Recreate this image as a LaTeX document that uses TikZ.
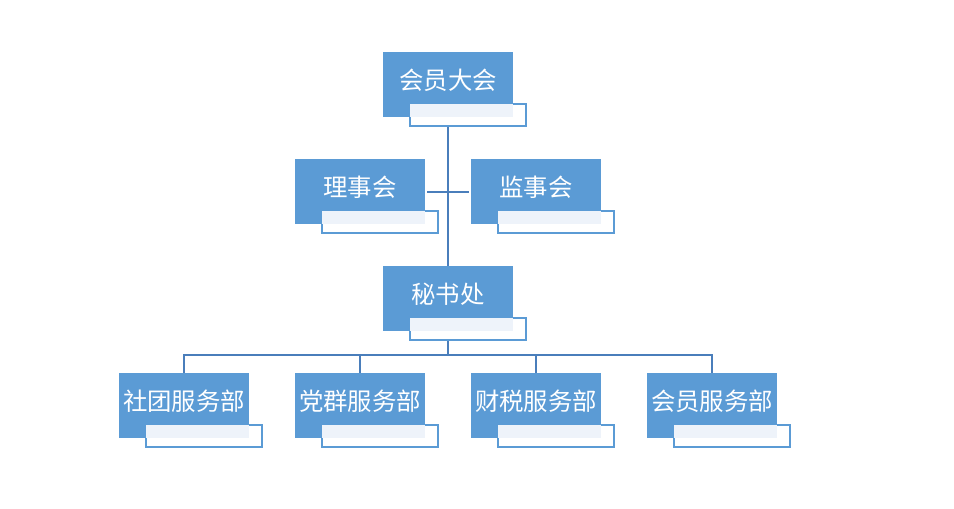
\documentclass[tikz,border=0pt]{standalone}
\usepackage{fontspec}
\newfontfamily\cjk{Noto Sans CJK SC}
\usetikzlibrary{calc,backgrounds}
\definecolor{unitblue}{HTML}{5B9BD5}
\definecolor{unitpale}{HTML}{EEF3FA}
\definecolor{linkblue}{HTML}{4A7EBB}

\begin{document}
\begin{tikzpicture}[x=0.5pt,y=0.5pt]
  \useasboundingbox (0,0) rectangle (954,-509);
  \begin{scope}[
    every node/.style={
      fill=unitblue,
      text=white,
      inner sep=0pt,
      minimum width=65pt,
      minimum height=32.5pt,
      text height=9pt,
      text depth=4.5pt,
      font=\cjk\fontsize{12.2}{14}\selectfont,
    },
    ]
    \node (dahui)   at (448,-84.5)  {会员大会};
    \node (lishi)   at (360,-191.5) {理事会};
    \node (jianshi) at (536,-191.5) {监事会};
    \node (mishu)   at (448,-298.5) {秘书处};
    \node (shetuan) at (184,-405.5) {社团服务部};
    \node (dangqun) at (360,-405.5) {党群服务部};
    \node (caishui) at (536,-405.5) {财税服务部};
    \node (huiyuan) at (712,-405.5) {会员服务部};
  \end{scope}
  \begin{scope}[
    on background layer,
    every node/.style={
      fill=white,
      draw=unitblue,
      line width=1pt,
      inner sep=0pt,
      minimum width=58pt,
      minimum height=11pt,
    },
    ]
    \node (dahui-tab)   at ($(dahui)+(20,-30.5)$)   {};
    \node (lishi-tab)   at ($(lishi)+(20,-30.5)$)   {};
    \node (jianshi-tab) at ($(jianshi)+(20,-30.5)$) {};
    \node (mishu-tab)   at ($(mishu)+(20,-30.5)$)   {};
    \node (shetuan-tab) at ($(shetuan)+(20,-30.5)$) {};
    \node (dangqun-tab) at ($(dangqun)+(20,-30.5)$) {};
    \node (caishui-tab) at ($(caishui)+(20,-30.5)$) {};
    \node (huiyuan-tab) at ($(huiyuan)+(20,-30.5)$) {};
  \end{scope}
  % pale part where tab and box meet
  \begin{scope}[every path/.style={fill=unitpale}]
    \path ($(dahui-tab.north west)+(1,-1)$)   rectangle (dahui.south east);
    \path ($(lishi-tab.north west)+(1,-1)$)   rectangle (lishi.south east);
    \path ($(jianshi-tab.north west)+(1,-1)$) rectangle (jianshi.south east);
    \path ($(mishu-tab.north west)+(1,-1)$)   rectangle (mishu.south east);
    \path ($(shetuan-tab.north west)+(1,-1)$) rectangle (shetuan.south east);
    \path ($(dangqun-tab.north west)+(1,-1)$) rectangle (dangqun.south east);
    \path ($(caishui-tab.north west)+(1,-1)$) rectangle (caishui.south east);
    \path ($(huiyuan-tab.north west)+(1,-1)$) rectangle (huiyuan.south east);
  \end{scope}
  \coordinate (bus) at (448,-355);
  \begin{scope}[every path/.style={draw=linkblue,line width=1pt}]
    \path (dahui |- dahui-tab.south) -- (mishu.north);
    \path[shorten <=1pt,shorten >=1pt] (lishi.east) -- (jianshi.west);
    \path (mishu |- mishu-tab.south) -- (bus);
    \path (shetuan.north) |- (bus) -| (huiyuan.north);
    \path (dangqun.north) -- (dangqun |- bus);
    \path (caishui.north) -- (caishui |- bus);
  \end{scope}
\end{tikzpicture}
\end{document}
